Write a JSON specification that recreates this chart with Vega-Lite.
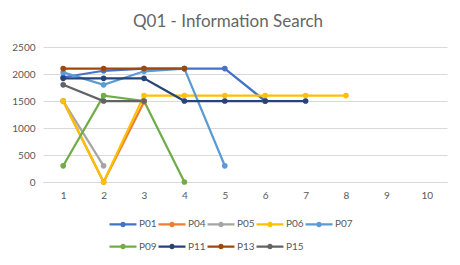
{
  "$schema": "https://vega.github.io/schema/vega-lite/v6.json",
  "autosize": "none",
  "width": 404,
  "height": 135,
  "padding": {"left": 43, "top": 47, "right": 13, "bottom": 83},
  "background": "white",
  "title": {
    "text": "Q01 - Information Search",
    "font": "Lato",
    "fontSize": 17,
    "fontWeight": "normal",
    "color": "#666666",
    "anchor": "middle",
    "dx": -17,
    "offset": 11
  },
  "data": {
    "values": [
      {"participant": "P01", "task": 1, "time": 1940},
      {"participant": "P01", "task": 2, "time": 2060},
      {"participant": "P01", "task": 3, "time": 2100},
      {"participant": "P01", "task": 4, "time": 2100},
      {"participant": "P01", "task": 5, "time": 2100},
      {"participant": "P01", "task": 6, "time": 1500},
      {"participant": "P04", "task": 1, "time": 1500},
      {"participant": "P04", "task": 2, "time": 0},
      {"participant": "P04", "task": 3, "time": 1480},
      {"participant": "P05", "task": 1, "time": 1500},
      {"participant": "P05", "task": 2, "time": 300},
      {"participant": "P06", "task": 1, "time": 1500},
      {"participant": "P06", "task": 2, "time": 0},
      {"participant": "P06", "task": 3, "time": 1600},
      {"participant": "P06", "task": 4, "time": 1600},
      {"participant": "P06", "task": 5, "time": 1600},
      {"participant": "P06", "task": 6, "time": 1600},
      {"participant": "P06", "task": 7, "time": 1600},
      {"participant": "P06", "task": 8, "time": 1600},
      {"participant": "P07", "task": 1, "time": 2030},
      {"participant": "P07", "task": 2, "time": 1800},
      {"participant": "P07", "task": 3, "time": 2050},
      {"participant": "P07", "task": 4, "time": 2100},
      {"participant": "P07", "task": 5, "time": 300},
      {"participant": "P09", "task": 1, "time": 300},
      {"participant": "P09", "task": 2, "time": 1600},
      {"participant": "P09", "task": 3, "time": 1500},
      {"participant": "P09", "task": 4, "time": 0},
      {"participant": "P11", "task": 1, "time": 1920},
      {"participant": "P11", "task": 2, "time": 1920},
      {"participant": "P11", "task": 3, "time": 1920},
      {"participant": "P11", "task": 4, "time": 1500},
      {"participant": "P11", "task": 5, "time": 1500},
      {"participant": "P11", "task": 6, "time": 1500},
      {"participant": "P11", "task": 7, "time": 1500},
      {"participant": "P13", "task": 1, "time": 2100},
      {"participant": "P13", "task": 2, "time": 2100},
      {"participant": "P13", "task": 3, "time": 2100},
      {"participant": "P13", "task": 4, "time": 2100},
      {"participant": "P15", "task": 1, "time": 1800},
      {"participant": "P15", "task": 2, "time": 1500},
      {"participant": "P15", "task": 3, "time": 1500}
    ]
  },
  "mark": {"type": "line", "strokeWidth": 2.25, "point": {"size": 32, "filled": true}},
  "encoding": {
    "x": {
      "field": "task",
      "type": "ordinal",
      "scale": {"type": "point", "domain": [1, 2, 3, 4, 5, 6, 7, 8, 9, 10], "padding": 0.5},
      "axis": {
        "title": null,
        "labelAngle": 0,
        "labelFont": "Lato",
        "labelFontSize": 10,
        "labelColor": "#595959",
        "labelPadding": 8,
        "ticks": false,
        "domainColor": "#D9D9D9",
        "grid": false
      }
    },
    "y": {
      "field": "time",
      "type": "quantitative",
      "scale": {"domain": [0, 2500], "nice": false},
      "axis": {
        "title": null,
        "values": [0, 500, 1000, 1500, 2000, 2500],
        "format": "d",
        "labelFont": "Lato",
        "labelFontSize": 10,
        "labelColor": "#595959",
        "labelPadding": 8,
        "ticks": false,
        "domain": false,
        "gridColor": "#D9D9D9",
        "gridWidth": 1
      }
    },
    "color": {
      "field": "participant",
      "type": "nominal",
      "scale": {
        "domain": ["P01", "P04", "P05", "P06", "P07", "P09", "P11", "P13", "P15"],
        "range": ["#4472C4", "#ED7D31", "#A5A5A5", "#FFC000", "#5B9BD5", "#70AD47", "#264478", "#9E480E", "#636363"]
      },
      "legend": {
        "title": null,
        "orient": "none",
        "legendX": 72,
        "legendY": 169,
        "direction": "horizontal",
        "columns": 5,
        "columnPadding": -3,
        "rowPadding": 7.5,
        "symbolType": "M-2,0H2M-0.24,0a0.24,0.24 0 1,0 0.48,0a0.24,0.24 0 1,0 -0.48,0",
        "symbolSize": 182,
        "symbolStrokeWidth": 2.25,
        "labelFont": "Lato",
        "labelFontSize": 10,
        "labelColor": "#595959",
        "labelOffset": 8
      }
    }
  },
  "config": {"view": {"stroke": null}}
}
